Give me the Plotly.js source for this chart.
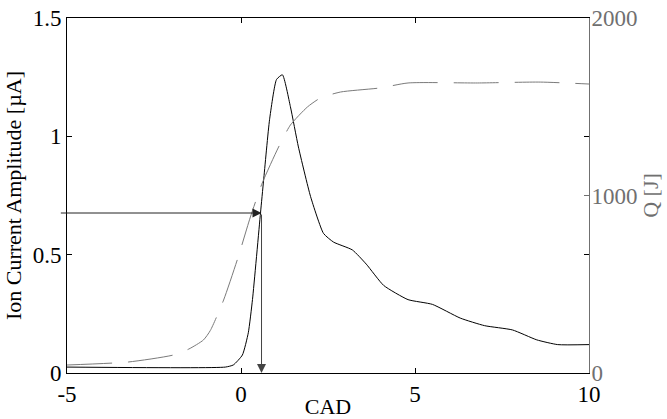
<!DOCTYPE html>
<html>
<head>
<meta charset="utf-8">
<script src="https://cdn.plot.ly/plotly-3.0.1.min.js"></script>
<style>html,body{margin:0;padding:0;background:#fff;}#chart{width:667px;height:419px;}</style>
</head>
<body>
<div id="chart"></div>
<script>
// Ion current amplitude (left axis, µA)
const cadIon = [-5, -0.45, -0.22, 0.04, 0.21, 0.33, 0.56, 0.65, 0.82, 1.02, 1.19, 1.42, 1.65, 2.0, 2.37, 2.66, 3.2, 3.6, 4.1, 4.8, 5.5, 6.3, 7.0, 7.8, 8.5, 9.1, 10];
const ionCurrent = [0.025, 0.025, 0.034, 0.076, 0.17, 0.31, 0.676, 0.815, 1.07, 1.24, 1.26, 1.125, 0.955, 0.745, 0.59, 0.553, 0.52, 0.46, 0.37, 0.31, 0.29, 0.232, 0.2, 0.182, 0.14, 0.12, 0.12];
// Heat release Q (right axis, J)
const cadQ = [-5, -3.24, -1.95, -1.5, -1.08, -0.88, -0.5, -0.08, 0.27, 0.61, 1.08, 1.42, 1.91, 2.28, 2.86, 4.0, 4.8, 6.8, 8.6, 10];
const heatQ = [45, 62, 101, 135, 186, 240, 411, 654, 879, 1070, 1273, 1397, 1499, 1549, 1583, 1606, 1634, 1634, 1639, 1628];
// Marked point (arrows)
const markCAD = 0.59;
const markIon = 0.676;
const arrowStartCAD = -5.22;
// Tick labels
const xTicks = [-5, 0, 5, 10];
const yTicks = [0, 0.5, 1, 1.5];
const y2Ticks = [0, 1000, 2000];

const font = "'Liberation Serif', 'Times New Roman', Times, serif";
const grey = '#707070';

const traces = [
  {x: cadIon, y: ionCurrent, type: 'scatter', mode: 'lines',
   line: {color: '#000', width: 1, shape: 'spline', smoothing: 0.5}, yaxis: 'y', hoverinfo: 'none'},
  {x: cadQ, y: heatQ, type: 'scatter', mode: 'lines',
   line: {color: '#7a7a7a', width: 1, dash: '45px,16px', shape: 'spline', smoothing: 0.6}, yaxis: 'y2', hoverinfo: 'none'}
];

const layout = {
  width: 667, height: 419,
  margin: {l: 67, r: 78, t: 18, b: 46},
  paper_bgcolor: '#fff', plot_bgcolor: '#fff',
  showlegend: false,
  font: {family: font, size: 22, color: '#000'},
  xaxis: {
    range: [-5, 10], tickvals: xTicks, ticktext: xTicks.map(String),
    ticks: 'inside', ticklen: 5, tickwidth: 1, tickcolor: '#000',
    showline: true, linecolor: '#000', linewidth: 1, mirror: 'ticks',
    showgrid: false, zeroline: false,
    tickfont: {family: font, size: 23, color: '#000'},
    title: {text: 'CAD', font: {family: font, size: 22, color: '#000'}, standoff: 7}
  },
  yaxis: {
    range: [0, 1.5], tickvals: yTicks, ticktext: ['0', '0.5', '1', '1.5'],
    ticks: 'inside', ticklen: 5, tickwidth: 1, tickcolor: '#000',
    showline: true, linecolor: '#000', linewidth: 1, mirror: 'ticks',
    showgrid: false, zeroline: false,
    tickfont: {family: font, size: 23, color: '#000'},
    title: {text: 'Ion Current Amplitude [µA]', font: {family: font, size: 22, color: '#000'}, standoff: 4}
  },
  yaxis2: {
    overlaying: 'y', side: 'right',
    range: [0, 2000], tickvals: y2Ticks, ticktext: y2Ticks.map(String),
    ticks: 'inside', ticklen: 5, tickwidth: 1, tickcolor: grey,
    showline: true, linecolor: grey, linewidth: 1,
    showgrid: false, zeroline: false, ticklabelstandoff: -3,
    tickfont: {family: font, size: 23, color: grey},
    title: {text: 'Q [J]', font: {family: font, size: 22, color: grey}, standoff: 4}
  },
  annotations: [
    {x: markCAD, y: markIon, xref: 'x', yref: 'y', ax: arrowStartCAD, ay: markIon, axref: 'x', ayref: 'y',
     showarrow: true, arrowhead: 2, arrowsize: 1.8, arrowwidth: 1, arrowcolor: '#222', text: ''},
    {x: markCAD, y: 0, xref: 'x', yref: 'y', ax: markCAD, ay: markIon, axref: 'x', ayref: 'y',
     showarrow: true, arrowhead: 2, arrowsize: 1.8, arrowwidth: 1, arrowcolor: '#444', text: ''}
  ]
};

Plotly.newPlot('chart', traces, layout, {displayModeBar: false, staticPlot: true});
</script>
</body>
</html>
